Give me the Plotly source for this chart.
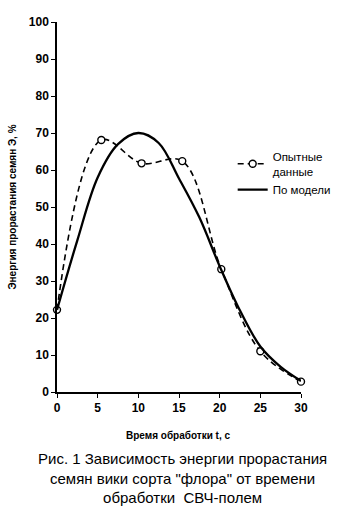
import plotly.graph_objects as go

# Experimental data
t_exp = [0, 5.45, 10.4, 15.4, 20.2, 25.0, 30.0]
e_exp = [22.2, 68.1, 61.8, 62.4, 33.2, 11.0, 2.8]

# Model curve
t_mod = [0, 2.5, 5.0, 7.5, 10.0, 12.5, 15.0, 17.5, 20.0, 22.5, 25.0, 27.5, 30.0]
e_mod = [22.2, 41.0, 58.0, 67.0, 70.0, 67.3, 57.7, 47.2, 34.0, 22.0, 12.3, 6.8, 3.0]

x_ticks = [0, 5, 10, 15, 20, 25, 30]
y_ticks = [0, 10, 20, 30, 40, 50, 60, 70, 80, 90, 100]

FONT = "Liberation Sans, Arial, sans-serif"

fig = go.Figure()
fig.add_trace(go.Scatter(
    x=t_exp, y=e_exp, mode="lines+markers", name="Опытные<br>данные",
    line=dict(color="black", width=1.6, dash="6px,4px", shape="spline", smoothing=1.0),
    marker=dict(symbol="circle", size=7, color="white", line=dict(color="black", width=1.4)),
    cliponaxis=False,
))
fig.add_trace(go.Scatter(
    x=t_mod, y=e_mod, mode="lines", name="По модели",
    line=dict(color="black", width=2.3, shape="spline", smoothing=1.0),
    cliponaxis=False,
))

fig.update_layout(
    width=348, height=528,
    margin=dict(l=57, r=40, t=22, b=136),
    paper_bgcolor="white", plot_bgcolor="white",
    font=dict(family=FONT, color="black"),
    showlegend=True,
    legend=dict(x=0.72, y=0.675, xanchor="left", yanchor="top",
                font=dict(size=11.5, family=FONT), bgcolor="rgba(0,0,0,0)",
                tracegroupgap=0),
    xaxis=dict(range=[0, 30], tickvals=x_ticks, ticks="outside", ticklen=4,
               showgrid=False, zeroline=False, showline=True, linecolor="black", linewidth=1.5,
               tickfont=dict(size=12, family=FONT, weight="bold"), tickcolor="black"),
    yaxis=dict(range=[0, 100], tickvals=y_ticks, ticks="outside", ticklen=4,
               showgrid=False, zeroline=False, showline=True, linecolor="black", linewidth=1.5,
               tickfont=dict(size=12, family=FONT, weight="bold"), tickcolor="black",
               title=dict(text="Энергия прорастания семян Э, %", font=dict(size=10, family=FONT, weight="bold"),
                          standoff=10)),
    annotations=[
        dict(text="Время обработки t, с", x=0.494, y=-0.117, xref="paper", yref="paper",
             showarrow=False, font=dict(size=10, family=FONT, weight="bold"), yanchor="middle"),
        dict(text="Рис. 1 Зависимость энергии прорастания<br>семян вики сорта \"флора\" от времени<br>обработки  СВЧ-полем",
             x=0.514, y=-0.233, xref="paper", yref="paper", showarrow=False,
             font=dict(size=15, family=FONT), yanchor="middle", align="center"),
    ],
)

fig.write_html("out.html")
